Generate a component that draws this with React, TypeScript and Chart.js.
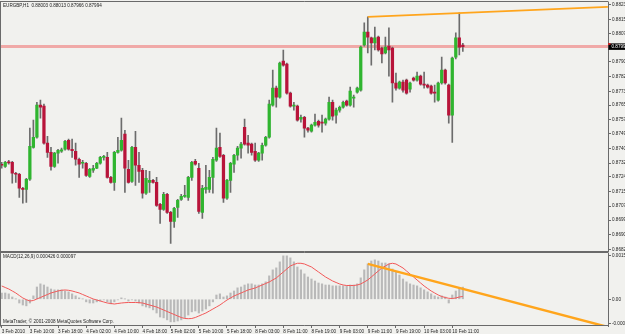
import { useEffect, useRef } from 'react';
import { Chart, registerables } from 'chart.js';

Chart.register(...registerables);

const BG = '#f1f1ee';
const FONT = '"Liberation Sans", Arial, sans-serif';
const GREEN = '#2fb52f';
const RED = '#b8143a';

const symbolTitle = 'EURGBP,H1  0.88003 0.88013 0.87966 0.87994';
const macdTitle = 'MACD(12,26,9) 0.000426 0.000097';
const copyright = 'MetaTrader, \u00a9 2001-2008 MetaQuotes Software Corp.';

const xTickIndex = [0, 8, 16, 24, 32, 40, 48, 56, 64, 72, 80, 88, 96, 104, 112, 120, 128];
const xTickLabels = ['3 Feb 2010', '3 Feb 10:00', '3 Feb 18:00', '4 Feb 02:00', '4 Feb 10:00', '4 Feb 18:00', '5 Feb 02:00', '5 Feb 10:00', '5 Feb 18:00', '8 Feb 03:00', '8 Feb 11:00', '8 Feb 19:00', '9 Feb 03:00', '9 Feb 11:00', '9 Feb 19:00', '10 Feb 03:00', '10 Feb 11:00'];

const priceTicks = [0.88235, 0.8815, 0.8807, 0.87985, 0.87905, 0.8782, 0.87735, 0.87655, 0.8757, 0.8749, 0.87405, 0.8732, 0.8724, 0.87155, 0.8707, 0.8699, 0.86905, 0.8682];
const macdTicks = [0.00154, 0, -0.00084];
const macdTickLabels = ['0.00154', '0.00', '-0.00084'];

const priceMin = 0.86808;
const priceMax = 0.88252;
const macdMin = -0.000935;
const macdMax = 0.00162;
const barMin = -0.2;
const barMax = 172.24;

const bidPrice = 0.87994;
const bidLabel = '0.87994';

const trendTopX = [104, 172.2];
const trendTopY = [0.88166, 0.88224];
const trendMacdX = [104, 172.2];
const trendMacdY = [0.00124, -0.00097];

const open = [0.87313,0.87301,0.87324,0.87324,0.87261,0.87255,0.87174,0.87168,0.87226,0.87411,
0.87469,0.87655,0.87649,0.87435,0.87382,0.87301,0.87377,0.87388,0.87400,0.87452,
0.87400,0.87388,0.87342,0.87319,0.87319,0.87243,0.87278,0.87290,0.87319,0.87353,
0.87353,0.87237,0.87208,0.87382,0.87394,0.87487,0.87284,0.87214,0.87411,0.87307,
0.87278,0.87145,0.87208,0.87220,0.87208,0.87081,0.87052,0.87139,0.87034,0.86982,
0.87063,0.87110,0.87127,0.87121,0.87237,0.87330,0.87290,0.87034,0.87168,0.87168,
0.87237,0.87336,0.87411,0.87365,0.87116,0.87220,0.87313,0.87365,0.87406,0.87527,
0.87435,0.87429,0.87388,0.87336,0.87377,0.87423,0.87469,0.87655,0.87754,0.87701,
0.87910,0.87893,0.87725,0.87649,0.87649,0.87574,0.87585,0.87522,0.87504,0.87539,
0.87562,0.87556,0.87551,0.87574,0.87672,0.87597,0.87626,0.87643,0.87678,0.87655,
0.87696,0.87730,0.87742,0.88003,0.88078,0.88044,0.88015,0.88049,0.87986,0.87957,
0.87997,0.87986,0.87783,0.87754,0.87788,0.87800,0.87748,0.87812,0.87800,0.87823,
0.87777,0.87771,0.87765,0.87730,0.87684,0.87783,0.87858,0.87771,0.87597,0.87933,
0.88044,0.88003];

const high = [0.87324,0.87330,0.87336,0.87330,0.87266,0.87261,0.87179,0.87232,0.87522,0.87568,
0.87672,0.87684,0.87661,0.87475,0.87411,0.87382,0.87400,0.87406,0.87452,0.87458,
0.87458,0.87435,0.87348,0.87336,0.87324,0.87290,0.87307,0.87324,0.87359,0.87365,
0.87382,0.87243,0.87388,0.87469,0.87580,0.87510,0.87336,0.87417,0.87504,0.87382,
0.87290,0.87278,0.87272,0.87226,0.87237,0.87087,0.87150,0.87145,0.87040,0.87063,
0.87110,0.87139,0.87191,0.87243,0.87330,0.87342,0.87319,0.87191,0.87307,0.87278,
0.87353,0.87522,0.87493,0.87371,0.87226,0.87324,0.87371,0.87417,0.87440,0.87574,
0.87481,0.87435,0.87435,0.87382,0.87435,0.87475,0.87684,0.87858,0.87765,0.87904,
0.87974,0.87899,0.87730,0.87672,0.87655,0.87597,0.87591,0.87527,0.87545,0.87603,
0.87568,0.87597,0.87580,0.87701,0.87684,0.87638,0.87649,0.87678,0.87684,0.87759,
0.87713,0.87759,0.87997,0.88131,0.88166,0.88049,0.88107,0.88055,0.87991,0.88049,
0.88102,0.87991,0.87841,0.87794,0.87800,0.87806,0.87788,0.87817,0.87846,0.87829,
0.87846,0.87777,0.87771,0.87771,0.87788,0.87933,0.87864,0.87777,0.87933,0.88073,
0.88189,0.88013];

const low = [0.87290,0.87295,0.87313,0.87203,0.87208,0.87121,0.87087,0.87092,0.87220,0.87406,
0.87464,0.87580,0.87429,0.87353,0.87278,0.87295,0.87319,0.87382,0.87394,0.87394,
0.87353,0.87307,0.87237,0.87290,0.87243,0.87237,0.87266,0.87287,0.87313,0.87336,
0.87232,0.87203,0.87162,0.87377,0.87388,0.87150,0.87203,0.87208,0.87191,0.87208,
0.87116,0.87139,0.87150,0.87203,0.87069,0.86971,0.87046,0.87029,0.86855,0.86947,
0.87005,0.87104,0.87121,0.87104,0.87220,0.87307,0.87029,0.87000,0.87145,0.87150,
0.87145,0.87330,0.87353,0.87092,0.87110,0.87150,0.87266,0.87336,0.87348,0.87423,
0.87377,0.87365,0.87330,0.87330,0.87336,0.87417,0.87464,0.87649,0.87643,0.87696,
0.87881,0.87719,0.87643,0.87626,0.87562,0.87556,0.87469,0.87498,0.87498,0.87533,
0.87527,0.87498,0.87539,0.87568,0.87568,0.87551,0.87614,0.87638,0.87649,0.87649,
0.87643,0.87725,0.87736,0.87997,0.87957,0.87887,0.87974,0.87968,0.87899,0.87951,
0.87823,0.87672,0.87742,0.87748,0.87730,0.87719,0.87730,0.87794,0.87794,0.87771,
0.87754,0.87754,0.87719,0.87672,0.87678,0.87777,0.87777,0.87551,0.87440,0.87922,
0.87945,0.87966];

const close = [0.87307,0.87324,0.87321,0.87261,0.87255,0.87174,0.87168,0.87226,0.87417,0.87469,
0.87655,0.87643,0.87435,0.87382,0.87301,0.87377,0.87394,0.87397,0.87446,0.87400,
0.87391,0.87342,0.87313,0.87324,0.87249,0.87284,0.87290,0.87319,0.87353,0.87359,
0.87237,0.87208,0.87382,0.87394,0.87452,0.87290,0.87208,0.87411,0.87307,0.87272,
0.87145,0.87232,0.87220,0.87208,0.87075,0.87052,0.87139,0.87034,0.86982,0.87058,
0.87104,0.87127,0.87133,0.87237,0.87324,0.87313,0.87040,0.87174,0.87179,0.87237,
0.87342,0.87406,0.87359,0.87116,0.87220,0.87319,0.87365,0.87406,0.87429,0.87429,
0.87423,0.87382,0.87336,0.87377,0.87423,0.87469,0.87661,0.87754,0.87701,0.87899,
0.87887,0.87725,0.87649,0.87655,0.87568,0.87585,0.87522,0.87510,0.87539,0.87556,
0.87539,0.87551,0.87574,0.87672,0.87591,0.87626,0.87643,0.87672,0.87655,0.87736,
0.87701,0.87754,0.87991,0.88078,0.88049,0.88015,0.88044,0.87974,0.87951,0.87991,
0.87974,0.87783,0.87754,0.87788,0.87742,0.87725,0.87783,0.87800,0.87823,0.87777,
0.87771,0.87759,0.87725,0.87725,0.87783,0.87858,0.87783,0.87597,0.87928,0.88044,
0.87991,0.87994];

const macdMain = [2.2e-4,2.2e-4,1.9e-4,0.8e-4,0.1e-4,-1.3e-4,-2.0e-4,-2.3e-4,-1.3e-4,1.2e-4,
4.3e-4,5.4e-4,5.0e-4,4.3e-4,3.6e-4,3.3e-4,3.3e-4,3.3e-4,2.9e-4,2.6e-4,
1.9e-4,1.2e-4,0.5e-4,0.1e-4,-0.9e-4,-1.3e-4,-1.3e-4,-0.9e-4,-0.6e-4,-0.2e-4,
-0.9e-4,-1.6e-4,-0.9e-4,-0.2e-4,0.5e-4,0.1e-4,-0.6e-4,-0.2e-4,-0.6e-4,-1.3e-4,
-2.3e-4,-2.7e-4,-3.0e-4,-3.7e-4,-4.8e-4,-6.2e-4,-6.5e-4,-7.2e-4,-7.9e-4,-7.9e-4,
-7.6e-4,-7.2e-4,-6.5e-4,-5.5e-4,-4.4e-4,-4.1e-4,-4.8e-4,-4.1e-4,-3.4e-4,-2.3e-4,
-0.9e-4,1.5e-4,1.9e-4,0.8e-4,1.2e-4,2.2e-4,2.9e-4,4.0e-4,4.3e-4,5.0e-4,
5.4e-4,5.4e-4,5.0e-4,5.0e-4,5.4e-4,6.1e-4,8.2e-4,10.3e-4,11.0e-4,13.1e-4,
15.2e-4,15.2e-4,14.5e-4,13.1e-4,11.3e-4,10.3e-4,8.9e-4,7.8e-4,7.1e-4,6.4e-4,
5.7e-4,5.4e-4,5.0e-4,5.0e-4,4.7e-4,4.7e-4,4.7e-4,4.7e-4,4.7e-4,5.0e-4,
5.0e-4,5.4e-4,7.5e-4,10.3e-4,12.4e-4,13.4e-4,13.8e-4,13.4e-4,12.7e-4,12.7e-4,
12.4e-4,10.6e-4,9.6e-4,8.5e-4,7.1e-4,6.1e-4,5.4e-4,5.0e-4,4.7e-4,4.0e-4,
3.3e-4,2.6e-4,1.9e-4,1.2e-4,0.8e-4,1.2e-4,0.8e-4,-1.3e-4,1.5e-4,2.9e-4,
3.6e-4,4.26e-4];

const macdSignal = [4.66e-4,4.13e-4,3.61e-4,2.91e-4,2.21e-4,1.33e-4,0.46e-4,-0.14e-4,-0.60e-4,-0.42e-4,
0.11e-4,0.63e-4,1.16e-4,1.68e-4,2.21e-4,2.56e-4,2.91e-4,3.15e-4,3.26e-4,3.15e-4,
2.91e-4,2.56e-4,2.21e-4,1.68e-4,1.16e-4,0.63e-4,0.11e-4,-0.25e-4,-0.60e-4,-0.95e-4,
-1.30e-4,-1.47e-4,-1.65e-4,-1.47e-4,-1.30e-4,-1.19e-4,-1.12e-4,-1.12e-4,-1.12e-4,-1.19e-4,
-1.30e-4,-1.65e-4,-2.00e-4,-2.35e-4,-2.70e-4,-3.22e-4,-3.75e-4,-4.27e-4,-4.80e-4,-5.32e-4,
-5.85e-4,-6.37e-4,-6.72e-4,-6.79e-4,-6.72e-4,-6.37e-4,-5.85e-4,-5.32e-4,-4.80e-4,-4.10e-4,
-3.40e-4,-2.70e-4,-2.00e-4,-1.12e-4,-0.25e-4,0.46e-4,1.16e-4,1.68e-4,2.21e-4,2.73e-4,
3.26e-4,3.61e-4,3.96e-4,4.48e-4,5.01e-4,5.53e-4,6.06e-4,6.76e-4,7.46e-4,8.51e-4,
9.56e-4,10.61e-4,11.66e-4,12.18e-4,12.60e-4,12.60e-4,12.36e-4,11.83e-4,11.31e-4,10.43e-4,
9.56e-4,8.68e-4,7.81e-4,7.11e-4,6.41e-4,5.88e-4,5.36e-4,5.01e-4,4.83e-4,4.83e-4,
4.83e-4,5.01e-4,5.36e-4,6.06e-4,6.76e-4,7.81e-4,8.86e-4,9.91e-4,10.96e-4,11.66e-4,
12.36e-4,12.60e-4,12.36e-4,11.66e-4,10.96e-4,9.91e-4,8.86e-4,7.81e-4,6.76e-4,5.71e-4,
4.66e-4,3.78e-4,2.91e-4,2.21e-4,1.51e-4,0.98e-4,0.63e-4,0.35e-4,0.28e-4,0.46e-4,
0.81e-4,0.97e-4];

const tickFont = { family: FONT, size: 4.6 };

function mainDecor() {
  return {
    id: 'mainDecor',
    afterDraw(chart: any) {
      const { ctx, chartArea: a } = chart;
      ctx.save();
      ctx.strokeStyle = '#6a6a6a';
      ctx.lineWidth = 1;
      ctx.beginPath();
      ctx.moveTo(0, a.top - 0.5); ctx.lineTo(a.right + 0.5, a.top - 0.5);
      ctx.moveTo(a.left - 0.5, a.top - 0.5); ctx.lineTo(a.left - 0.5, 252);
      ctx.moveTo(0, 251.5); ctx.lineTo(a.right + 0.5, 251.5);
      ctx.stroke();
      const yb = chart.scales.y.getPixelForValue(bidPrice);
      ctx.fillStyle = '#000';
      ctx.fillRect(a.right + 0.5, yb - 3.2, 17, 6.5);
      ctx.fillStyle = '#e02020';
      ctx.fillRect(a.right, yb - 3.4, 2.5, 1.6);
      ctx.fillStyle = '#fff';
      ctx.font = `4.6px ${FONT}`;
      ctx.textBaseline = 'middle';
      ctx.textAlign = 'left';
      ctx.fillText(bidLabel, a.right + 3.5, yb + 0.2);
      ctx.fillStyle = '#222';
      ctx.textBaseline = 'top';
      ctx.fillText(symbolTitle, 3, 3.2);
      ctx.restore();
    },
  };
}

function macdDecor() {
  return {
    id: 'macdDecor',
    afterDraw(chart: any) {
      const { ctx, chartArea: a } = chart;
      ctx.save();
      ctx.strokeStyle = '#6a6a6a';
      ctx.lineWidth = 1;
      ctx.beginPath();
      ctx.moveTo(0, 0.5); ctx.lineTo(a.right + 0.5, 0.5);
      ctx.moveTo(a.left - 0.5, 0); ctx.lineTo(a.left - 0.5, a.bottom + 0.5);
      ctx.moveTo(0, a.bottom - 0.5); ctx.lineTo(a.right + 0.5, a.bottom - 0.5);
      ctx.stroke();
      ctx.fillStyle = '#222';
      ctx.font = `4.6px ${FONT}`;
      ctx.textBaseline = 'top';
      ctx.textAlign = 'left';
      ctx.fillText(macdTitle, 3, 2.8);
      ctx.fillText(copyright, 3, a.bottom - 6.2);
      ctx.restore();
    },
  };
}

export default function App() {
  const mainRef = useRef<HTMLCanvasElement>(null);
  const macdRef = useRef<HTMLCanvasElement>(null);

  useEffect(() => {
    const idx = close.map((_, i) => i);

    const main = new Chart(mainRef.current as HTMLCanvasElement, {
      type: 'bar',
      data: {
        datasets: [
          {
            type: 'line',
            label: 'level',
            data: [{ x: barMin, y: bidPrice }, { x: barMax, y: bidPrice }],
            borderColor: 'rgba(238,110,110,0.55)',
            borderWidth: 3,
            pointRadius: 0,
            order: 10,
          } as any,
          {
            label: 'wick',
            data: idx.map((i) => ({ x: i, y: [low[i], high[i]] })),
            backgroundColor: '#6c6c6c',
            barThickness: 1,
            grouped: false,
            order: 5,
          } as any,
          {
            label: 'body',
            data: idx.map((i) => ({ x: i, y: [Math.min(open[i], close[i]), Math.max(open[i], close[i])] })),
            backgroundColor: idx.map((i) => (close[i] >= open[i] ? GREEN : RED)),
            barThickness: 2.6,
            minBarLength: 1,
            grouped: false,
            order: 4,
          } as any,
          {
            type: 'line',
            label: 'trend',
            data: trendTopX.map((x, k) => ({ x, y: trendTopY[k] })),
            borderColor: '#ffa51c',
            borderWidth: 1.6,
            pointRadius: 0,
            order: 1,
          } as any,
        ],
      },
      options: {
        responsive: false,
        animation: false,
        events: [],
        layout: { padding: { left: 1, top: 2, right: 0, bottom: 0.5 } },
        plugins: { legend: { display: false }, tooltip: { enabled: false } },
        scales: {
          x: { type: 'linear', min: barMin, max: barMax, display: false, offset: false },
          y: {
            position: 'right',
            min: priceMin,
            max: priceMax,
            afterBuildTicks: (axis: any) => { axis.ticks = priceTicks.map((v) => ({ value: v })); },
            afterFit: (s: any) => { s.width = 17; s.paddingTop = 0; s.paddingBottom = 0; },
            ticks: {
              autoSkip: false,
              font: tickFont,
              color: '#222',
              padding: 1,
              callback: (v: any) => Number(v).toFixed(5),
            },
            grid: { drawOnChartArea: false, tickLength: 3, color: '#6a6a6a' },
            border: { display: true, color: '#6a6a6a' },
          },
        },
      } as any,
      plugins: [mainDecor()],
    });

    const macd = new Chart(macdRef.current as HTMLCanvasElement, {
      type: 'bar',
      data: {
        datasets: [
          {
            label: 'MACD',
            data: idx.map((i) => ({ x: i, y: macdMain[i] })),
            backgroundColor: '#b9b9b9',
            barThickness: 1.5,
            grouped: false,
            order: 5,
          } as any,
          {
            type: 'line',
            label: 'Signal',
            data: idx.map((i) => ({ x: i, y: macdSignal[i] })),
            borderColor: '#f25858',
            borderWidth: 1,
            pointRadius: 0,
            order: 2,
          } as any,
          {
            type: 'line',
            label: 'trend',
            data: trendMacdX.map((x, k) => ({ x, y: trendMacdY[k] })),
            borderColor: '#ffa51c',
            borderWidth: 2.4,
            pointRadius: 0,
            order: 1,
          } as any,
        ],
      },
      options: {
        responsive: false,
        animation: false,
        events: [],
        layout: { padding: { left: 1, top: 1, right: 0, bottom: 0 } },
        plugins: { legend: { display: false }, tooltip: { enabled: false } },
        scales: {
          x: {
            type: 'linear',
            min: barMin,
            max: barMax,
            offset: false,
            afterBuildTicks: (axis: any) => { axis.ticks = xTickIndex.map((v) => ({ value: v })); },
            afterFit: (s: any) => { s.height = 8; s.paddingLeft = 0; s.paddingRight = 0; },
            ticks: {
              autoSkip: false,
              maxRotation: 0,
              minRotation: 0,
              align: 'start',
              font: tickFont,
              color: '#222',
              padding: 0.5,
              callback: (v: any) => {
                const k = xTickIndex.indexOf(Number(v));
                return k >= 0 ? xTickLabels[k] : '';
              },
            },
            grid: { drawOnChartArea: false, tickLength: 2, color: '#6a6a6a', offset: false },
            border: { display: false },
          },
          y: {
            position: 'right',
            min: macdMin,
            max: macdMax,
            afterBuildTicks: (axis: any) => { axis.ticks = macdTicks.map((v) => ({ value: v })); },
            afterFit: (s: any) => { s.width = 17; s.paddingTop = 0; s.paddingBottom = 0; },
            ticks: {
              autoSkip: false,
              font: tickFont,
              color: '#222',
              padding: 1,
              callback: (v: any) => {
                const k = macdTicks.indexOf(Number(v));
                return k >= 0 ? macdTickLabels[k] : '';
              },
            },
            grid: { drawOnChartArea: false, tickLength: 3, color: '#6a6a6a' },
            border: { display: true, color: '#6a6a6a' },
          },
        },
      } as any,
      plugins: [macdDecor()],
    });

    return () => {
      main.destroy();
      macd.destroy();
    };
  }, []);

  return (
    <div style={{ position: 'absolute', left: 0, top: 0, width: 625, height: 334, background: BG, overflow: 'hidden' }}>
      <canvas ref={mainRef} width={625} height={252} style={{ position: 'absolute', left: 0, top: 0 }} />
      <canvas ref={macdRef} width={625} height={82} style={{ position: 'absolute', left: 0, top: 252 }} />
    </div>
  );
}
